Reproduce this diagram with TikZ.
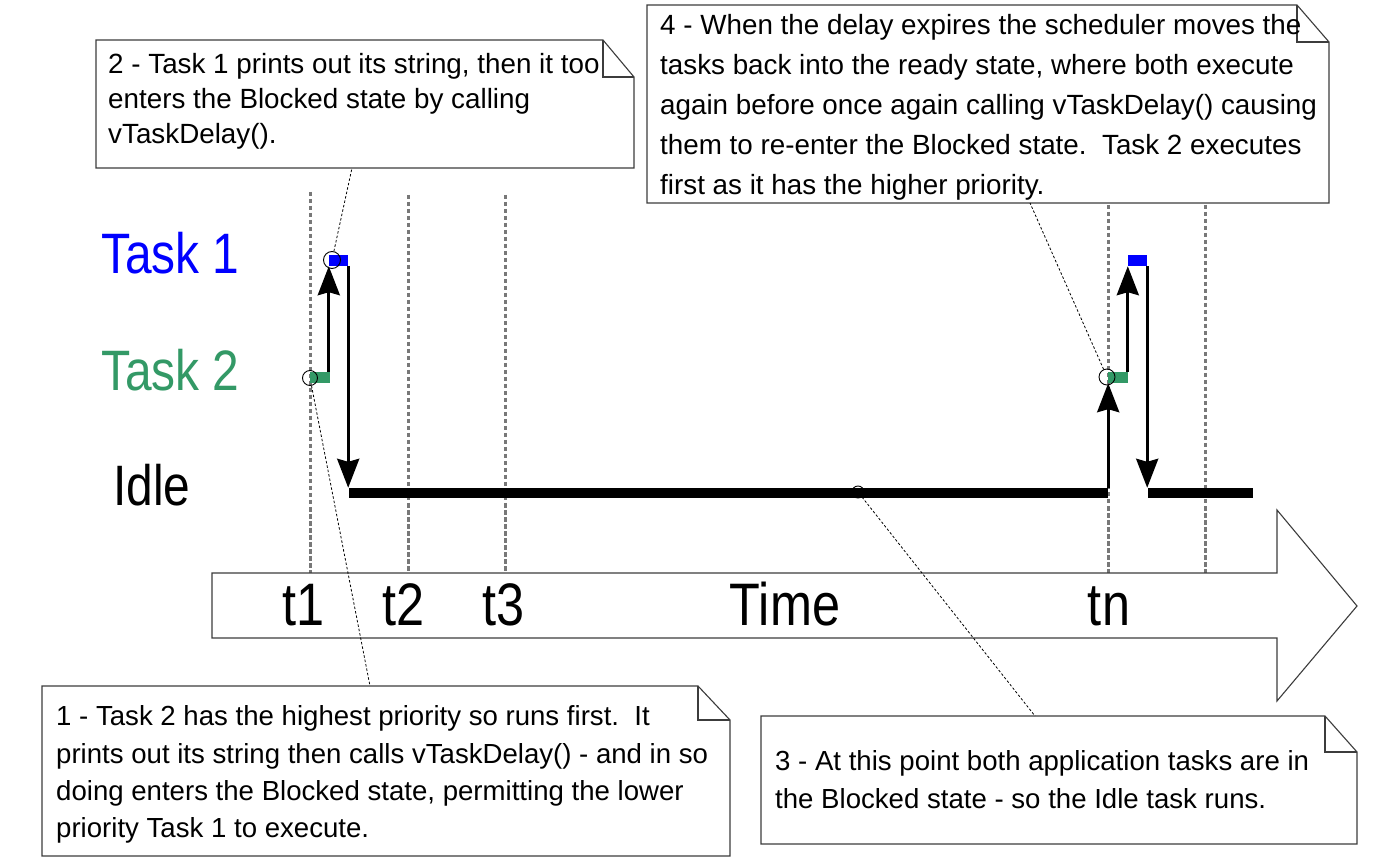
\documentclass[tikz,border=0pt]{standalone}
\usepackage{fontspec}
\setmainfont{Liberation Sans}
\usepackage{graphicx}
\usetikzlibrary{arrows.meta}
\definecolor{tgreen}{RGB}{51,153,102}
\definecolor{tblue}{RGB}{0,0,255}
\definecolor{gridgray}{RGB}{120,120,120}
\definecolor{boxline}{RGB}{60,60,60}
\newcommand{\narrowlab}[1]{\scalebox{0.84}[1]{#1}}
\tikzset{
  callout/.style={draw=boxline, line width=1.1pt, fill=white, line join=miter},
  ctext/.style={anchor=north west, inner sep=0pt, align=left},
  gridline/.style={draw=gridgray, line width=3pt, dash pattern=on 4.5pt off 2.5pt},
  leader/.style={draw=black, line width=0.8pt, dash pattern=on 2.5pt off 2pt},
  markcirc/.style={draw=black, line width=0.9pt, circle, minimum size=15pt, inner sep=0pt},
  bigarrow/.style={draw=black, line width=3pt, -{Stealth[length=29pt,width=22pt,inset=3pt]}},
  bar/.style={inner sep=0pt, minimum height=11pt},
  idlebar/.style={fill=black, inner sep=0pt, minimum height=10pt},
  tasklab/.style={anchor=base west, inner sep=0pt, font=\fontsize{57}{60}\selectfont},
  timelab/.style={anchor=base, inner sep=0pt, font=\fontsize{60}{64}\selectfont},
}
\begin{document}
\begin{tikzpicture}[x=1pt,y=-1pt]
\useasboundingbox[fill=white] (0,0) rectangle (1385,866);

% vertical time grid lines
\draw[gridline] (310,192) -- (310,573);
\draw[gridline] (408,195) -- (408,573);
\draw[gridline] (505,195) -- (505,573);
\draw[gridline] (1108,205) -- (1108,573);
\draw[gridline] (1205,205) -- (1205,573);

% row labels
\node[tasklab, text=tblue] (lt1) at (101,274) {\narrowlab{Task 1}};
\node[tasklab, text=tgreen] (lt2) at (101,391) {\narrowlab{Task 2}};
\node[tasklab] (lidle) at (113,505) {\narrowlab{Idle}};

% execution bars
\node[bar, fill=tgreen, minimum width=20pt] (g1) at (320,377.5) {};
\node[bar, fill=tblue, minimum width=19pt] (b1) at (338.5,260.5) {};
\node[idlebar, minimum width=759pt] (i1) at (728.5,493) {};
\node[bar, fill=tgreen, minimum width=20pt] (g2) at (1118,377.5) {};
\node[bar, fill=tblue, minimum width=19pt] (b2) at (1137.5,260.5) {};
\node[idlebar, minimum width=105pt] (i2) at (1200.5,493) {};

% task switch arrows
\draw[bigarrow] (b1.south west |- g1.north) -- (b1.south west);
\draw[bigarrow] (b1.south east) -- (b1.south east |- i1.north);
\draw[bigarrow] (i1.north east) -- (i1.north east |- g2.south);
\draw[bigarrow] (b2.south west |- g2.north) -- (b2.south west);
\draw[bigarrow] (b2.south east) -- (b2.south east |- i2.north);

% time arrow
\draw[draw=boxline, line width=1.1pt, fill=white]
  (212,573) -- (1277,573) -- (1277,510) -- (1357,606) -- (1277,701)
  -- (1277,638) -- (212,638) -- cycle;
\node[timelab] (tt1) at (304,625) {\narrowlab{t1}};
\node[timelab] (tt2) at (404,625) {\narrowlab{t2}};
\node[timelab] (tt3) at (504,625) {\narrowlab{t3}};
\node[timelab] (ttime) at (785,625) {\narrowlab{Time}};
\node[timelab] (ttn) at (1109,625) {\narrowlab{tn}};

% marker circles
\node[markcirc] (c1) at (310,378) {};
\node[markcirc, minimum height=17pt] (c2) at (332,260) {};
\node[markcirc, minimum height=16pt] (c3) at (1107,377) {};
\node[markcirc, minimum size=12pt] (c4) at (858,492) {};

% callout 2
\draw[callout] (96,40) -- (603,40) -- (634,77) -- (634,168) -- (96,168) -- cycle;
\draw[callout, fill=none] (603,40) -- (603,77) -- (634,77);
\node[ctext, font=\fontsize{27.8}{35}\selectfont] (n2) at (108,49)
  {\strut 2 - Task 1 prints out its string, then it too\\enters the Blocked state by calling\\vTaskDelay().};
% callout 4
\draw[callout] (647,5) -- (1297,5) -- (1329,42) -- (1329,203) -- (647,203) -- cycle;
\draw[callout, fill=none] (1297,5) -- (1297,42) -- (1329,42);
\node[ctext, font=\fontsize{27.8}{40}\selectfont] (n4) at (660,6)
  {\strut 4 - When the delay expires the scheduler moves the\\tasks back into the ready state, where both execute\\again before once again calling vTaskDelay() causing\\them to re-enter the Blocked state.\ \ Task 2 executes\\first as it has the higher priority.};
% callout 1
\draw[callout] (42,686) -- (698,686) -- (730,720) -- (730,856) -- (42,856) -- cycle;
\draw[callout, fill=none] (698,686) -- (698,720) -- (730,720);
\node[ctext, font=\fontsize{27.6}{37.3}\selectfont] (n1) at (56,699.4)
  {\strut 1 - Task 2 has the highest priority so runs first.\ \ It\\prints out its string then calls vTaskDelay() - and in so\\doing enters the Blocked state, permitting the lower\\priority Task 1 to execute.};
% callout 3
\draw[callout] (761,716) -- (1325,716) -- (1357,752) -- (1357,844) -- (761,844) -- cycle;
\draw[callout, fill=none] (1325,716) -- (1325,752) -- (1357,752);
\node[ctext, font=\fontsize{27.6}{38.7}\selectfont] (n3) at (775,742.9)
  {\strut 3 - At this point both application tasks are in\\the Blocked state - so the Idle task runs.};

% leader lines
\coordinate (l1) at (370,686);
\coordinate (l2) at (352,168);
\coordinate (l3) at (1030,203);
\coordinate (l4) at (1035,716);
\draw[leader] (c1) -- (l1);
\draw[leader] (c2) -- (l2);
\draw[leader] (c3) -- (l3);
\draw[leader] (c4) -- (l4);
\end{tikzpicture}
\end{document}
